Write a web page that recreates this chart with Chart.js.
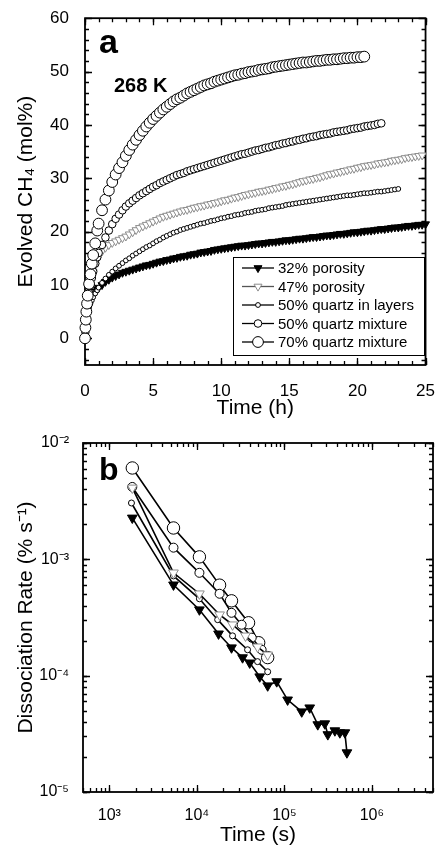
<!DOCTYPE html>
<html>
<head>
<meta charset="utf-8">
<script src="https://cdn.jsdelivr.net/npm/chart.js@4.4.1/dist/chart.umd.min.js"></script>
<style>
  html, body { margin: 0; padding: 0; background: #fff; }
  #chartA { position: absolute; left: 0; top: 0; }
  #chartB { position: absolute; left: 0; top: 425px; }
</style>
</head>
<body>
<canvas id="chartA" width="443" height="425"></canvas>
<canvas id="chartB" width="443" height="424"></canvas>
<script>
// ---- panel a: evolved CH4 vs time (h) ----
const hours = [
  0, 0.03, 0.06, 0.1, 0.15, 0.2, 0.3, 0.4, 0.5, 0.6, 0.75, 0.9,
  1, 1.25, 1.5, 1.75, 2, 2.25, 2.5, 2.75, 3, 3.25, 3.5, 3.75,
  4, 4.25, 4.5, 4.75, 5, 5.25, 5.5, 5.75, 6, 6.25, 6.5, 6.75,
  7, 7.25, 7.5, 7.75, 8, 8.25, 8.5, 8.75, 9, 9.25, 9.5, 9.75,
  10, 10.25, 10.5, 10.75, 11, 11.25, 11.5, 11.75, 12, 12.25, 12.5, 12.75,
  13, 13.25, 13.5, 13.75, 14, 14.25, 14.5, 14.75, 15, 15.25, 15.5, 15.75,
  16, 16.25, 16.5, 16.75, 17, 17.25, 17.5, 17.75, 18, 18.25, 18.5, 18.75,
  19, 19.25, 19.5, 19.75, 20, 20.25, 20.5, 20.75, 21, 21.25, 21.5, 21.75,
  22, 22.25, 22.5, 22.75, 23, 23.25, 23.5, 23.75, 24, 24.25, 24.5, 24.75, 25
];

const evolvedPor32 = [
  0, 1.2, 2.3, 3.5, 4.6, 5.5, 6.6, 7.3, 7.9, 8.3, 8.8, 9.2,
  9.5, 10.0, 10.6, 11.0, 11.4, 11.7, 12.0, 12.3, 12.5, 12.7, 12.9, 13.1,
  13.3, 13.5, 13.7, 13.8, 14.0, 14.2, 14.4, 14.5, 14.7, 14.8, 15.0, 15.1,
  15.3, 15.4, 15.5, 15.7, 15.8, 15.9, 16.1, 16.2, 16.3, 16.4, 16.6, 16.7,
  16.8, 16.9, 17.0, 17.1, 17.2, 17.3, 17.4, 17.4, 17.5, 17.6, 17.7, 17.8,
  17.8, 17.9, 18.0, 18.1, 18.1, 18.2, 18.3, 18.4, 18.4, 18.5, 18.6, 18.7,
  18.7, 18.8, 18.9, 19.0, 19.0, 19.1, 19.2, 19.3, 19.3, 19.4, 19.5, 19.6,
  19.6, 19.7, 19.8, 19.9, 19.9, 20.0, 20.1, 20.2, 20.2, 20.3, 20.4, 20.5,
  20.5, 20.6, 20.7, 20.8, 20.8, 20.9, 21.0, 21.1, 21.1, 21.2, 21.3, 21.3, 21.4
];

const evolvedPor47 = [
  0, 1.2, 2.4, 3.8, 5.3, 6.6, 8.5, 10, 11.3, 12.4, 13.7, 14.8,
  15.5, 16.3, 17.0, 17.5, 17.9, 18.2, 18.5, 18.8, 19.1, 19.5, 19.9, 20.3,
  20.7, 21.0, 21.3, 21.6, 21.9, 22.2, 22.5, 22.8, 23.0, 23.2, 23.4, 23.6,
  23.8, 24.0, 24.1, 24.3, 24.5, 24.6, 24.8, 24.9, 25.1, 25.2, 25.4, 25.5,
  25.7, 25.9, 26.0, 26.2, 26.4, 26.5, 26.7, 26.9, 27.0, 27.2, 27.3, 27.5,
  27.6, 27.7, 27.9, 28.0, 28.2, 28.3, 28.5, 28.6, 28.8, 28.9, 29.1, 29.3,
  29.5, 29.6, 29.8, 29.9, 30.1, 30.2, 30.4, 30.6, 30.8, 30.9, 31.1, 31.2,
  31.4, 31.5, 31.7, 31.8, 32.0, 32.1, 32.3, 32.4, 32.5, 32.6, 32.8, 32.9,
  33.0, 33.1, 33.3, 33.4, 33.5, 33.6, 33.8, 33.9, 34.0, 34.1, 34.2, 34.3
];

const evolvedLayers50 = [
  0, 1, 2, 3, 4, 4.8, 5.8, 6.5, 7.1, 7.7, 8.4, 9.0,
  9.5, 10.4, 11.2, 11.9, 12.5, 13.1, 13.6, 14.1, 14.6, 15.0, 15.5, 15.9,
  16.3, 16.7, 17.1, 17.4, 17.8, 18.2, 18.5, 18.9, 19.2, 19.5, 19.8, 20.0,
  20.3, 20.5, 20.7, 20.9, 21.1, 21.3, 21.5, 21.6, 21.8, 22.0, 22.1, 22.3,
  22.5, 22.6, 22.8, 22.9, 23.1, 23.2, 23.3, 23.5, 23.6, 23.7, 23.9, 24.0,
  24.1, 24.2, 24.4, 24.5, 24.6, 24.7, 24.8, 25.0, 25.1, 25.2, 25.3, 25.4,
  25.5, 25.6, 25.7, 25.8, 25.9, 26.0, 26.1, 26.2, 26.3, 26.4, 26.5, 26.6,
  26.7, 26.8, 26.8, 26.9, 27.0, 27.1, 27.2, 27.2, 27.3, 27.4, 27.5, 27.5,
  27.6, 27.7, 27.8, 27.9, 28.0
];

const evolvedMix50 = [
  0, 1.2, 2.4, 3.8, 5.3, 6.6, 8.5, 10, 11.3, 12.5, 14, 15.2,
  16.0, 17.5, 18.9, 20.2, 21.4, 22.4, 23.2, 24.0, 24.7, 25.3, 25.8, 26.3,
  26.8, 27.2, 27.6, 28.0, 28.4, 28.7, 29.1, 29.4, 29.7, 30.0, 30.3, 30.6,
  30.8, 31.0, 31.3, 31.5, 31.7, 31.9, 32.1, 32.3, 32.5, 32.7, 32.9, 33.1,
  33.3, 33.5, 33.7, 33.9, 34.1, 34.3, 34.5, 34.6, 34.8, 35.0, 35.2, 35.3,
  35.5, 35.7, 35.8, 36.0, 36.2, 36.3, 36.5, 36.6, 36.8, 36.9, 37.1, 37.2,
  37.4, 37.5, 37.7, 37.8, 37.9, 38.1, 38.2, 38.3, 38.4, 38.6, 38.7, 38.8,
  38.9, 39.0, 39.2, 39.3, 39.4, 39.5, 39.7, 39.8, 39.9, 40.0, 40.2, 40.3
];

const evolvedMix70 = [
  0, 2, 3.5, 5, 6.5, 8, 10.2, 12, 14, 15.6, 17.8, 20.2,
  21.5, 24.0, 26.0, 27.7, 29.3, 30.7, 31.9, 33.0, 34.2, 35.3, 36.3, 37.2,
  38.1, 38.9, 39.7, 40.4, 41.1, 41.7, 42.3, 42.9, 43.4, 43.9, 44.4, 44.8,
  45.1, 45.5, 45.9, 46.2, 46.5, 46.8, 47.1, 47.4, 47.6, 47.8, 48.1, 48.3,
  48.5, 48.7, 48.9, 49.1, 49.3, 49.4, 49.6, 49.7, 49.9, 50.0, 50.1, 50.3,
  50.4, 50.5, 50.6, 50.8, 50.9, 51.0, 51.1, 51.2, 51.3, 51.4, 51.5, 51.6,
  51.7, 51.7, 51.8, 51.9, 52.0, 52.0, 52.1, 52.2, 52.2, 52.3, 52.3, 52.4,
  52.5, 52.5, 52.6, 52.6, 52.7, 52.7, 52.8
];

const hourTicks = [0, 5, 10, 15, 20, 25];
const evolvedTicks = [0, 10, 20, 30, 40, 50, 60];

// ---- panel b: dissociation rate vs time (s) ----
const rateTimePor32 = [1830, 5410, 10700, 17700, 24900, 33300, 40200, 52300, 64500, 81800,
  109000, 158000, 195000, 241000, 290000, 314000, 378000, 431000, 492000, 519000];
const ratePor32 = [2.27e-3, 6.04e-4, 3.69e-4, 2.29e-4, 1.74e-4, 1.43e-4, 1.29e-4, 9.8e-5, 8.2e-5, 8.9e-5,
  6.2e-5, 4.9e-5, 5.3e-5, 3.8e-5, 3.87e-5, 3.12e-5, 3.37e-5, 3.24e-5, 3.24e-5, 2.18e-5];
const rateTimePor47 = [1830, 5410, 10700, 18200, 25600, 36000, 49400, 64500];
const ratePor47 = [4.11e-3, 7.66e-4, 5.06e-4, 3.34e-4, 2.74e-4, 2.2e-4, 1.77e-4, 1.51e-4];
const rateTimeLayers50 = [1790, 5410, 10700, 17300, 25600, 38000, 49400, 64500];
const rateLayers50 = [3.05e-3, 7.2e-4, 4.58e-4, 3.03e-4, 2.2e-4, 1.67e-4, 1.32e-4, 1.08e-4];
const rateTimeMix50 = [1830, 5410, 10700, 18200, 24900, 32500, 42400, 55000];
const rateMix50 = [4.19e-3, 1.26e-3, 7.66e-4, 5.06e-4, 3.47e-4, 2.74e-4, 2.12e-4, 1.67e-4];
const rateTimeMix70 = [1830, 5410, 10700, 18200, 24900, 39000, 50900, 64500];
const rateMix70 = [6.1e-3, 1.86e-3, 1.05e-3, 6.0e-4, 4.4e-4, 2.85e-4, 1.92e-4, 1.43e-4];

const secTicks = [1e3, 1e4, 1e5, 1e6];
const secTickLabels = ['10³', '10⁴', '10⁵', '10⁶'];
const rateTicks = [1e-5, 1e-4, 1e-3, 1e-2];
const rateTickLabels = ['10⁻⁵', '10⁻⁴', '10⁻³', '10⁻²'];

const seriesNames = ['32% porosity', '47% porosity', '50% quartz in layers', '50% quartz mixture', '70% quartz mixture'];

const FONT = '"Liberation Sans", Arial, Helvetica, sans-serif';

// marker look per series (shared by both panels, radius differs)
const markers = [
  { pointStyle: 'triangle', rotation: 180, bg: '#000', border: '#000', line: '#000', ra: 4.6, rb: 5.6 },
  { pointStyle: 'triangle', rotation: 180, bg: '#fff', border: '#8c8c8c', line: '#555', ra: 4.6, rb: 5.6 },
  { pointStyle: 'circle', rotation: 0, bg: '#fff', border: '#000', line: '#000', ra: 2.4, rb: 3 },
  { pointStyle: 'circle', rotation: 0, bg: '#fff', border: '#000', line: '#000', ra: 3.8, rb: 4.5 },
  { pointStyle: 'circle', rotation: 0, bg: '#fff', border: '#000', line: '#000', ra: 5.4, rb: 6.2 }
];

function pairs(xs, ys) {
  return ys.map((v, i) => ({ x: xs[i], y: v }));
}

function linearMinor(min, max, step) {
  const out = [];
  for (let v = min; v <= max + 1e-9; v += step) out.push(v);
  return out;
}

function logMinor(min, max) {
  const out = [];
  for (let k = Math.floor(Math.log10(min)); k <= Math.ceil(Math.log10(max)); k++) {
    for (let d = 1; d <= 9; d++) {
      const v = d * Math.pow(10, k);
      if (v >= min && v <= max) out.push(v);
    }
  }
  return out;
}

// box frame with inward ticks on all four sides
const frameTicks = {
  id: 'frameTicks',
  beforeDatasetsDraw(chart, args, o) {
    const { ctx, chartArea: a, scales: { x, y } } = chart;
    ctx.save();
    ctx.strokeStyle = '#000';
    ctx.lineWidth = 1.3;
    const mark = (scale, values, len) => {
      values.forEach(v => {
        const p = Math.round(scale.getPixelForValue(v)) + 0.5;
        ctx.beginPath();
        if (scale.isHorizontal()) {
          ctx.moveTo(p, a.bottom); ctx.lineTo(p, a.bottom - len);
          ctx.moveTo(p, a.top); ctx.lineTo(p, a.top + len);
        } else {
          ctx.moveTo(a.left, p); ctx.lineTo(a.left + len, p);
          ctx.moveTo(a.right, p); ctx.lineTo(a.right - len, p);
        }
        ctx.stroke();
      });
    };
    mark(x, o.xMajor, 7);
    mark(x, o.xMinor, 4);
    mark(y, o.yMajor, 7);
    mark(y, o.yMinor, 4);
    ctx.lineWidth = 1.8;
    ctx.strokeRect(a.left, a.top, a.right - a.left, a.bottom - a.top);
    ctx.restore();
  }
};

// boxed legend inside panel a
const boxLegend = {
  id: 'boxLegend',
  afterDatasetsDraw(chart, args, o) {
    if (!o.show) return;
    const ctx = chart.ctx;
    ctx.save();
    ctx.fillStyle = '#fff';
    ctx.fillRect(o.left, o.top, o.width, o.height);
    ctx.strokeStyle = '#000';
    ctx.lineWidth = 1;
    ctx.strokeRect(o.left + 0.5, o.top + 0.5, o.width, o.height);
    ctx.font = o.fontSize + 'px ' + FONT;
    ctx.textBaseline = 'middle';
    chart.data.datasets.forEach((ds, i) => {
      const yy = o.top + o.firstRow + i * o.rowGap;
      const m = markers[i];
      ctx.strokeStyle = m.line;
      ctx.lineWidth = 1.3;
      ctx.beginPath();
      ctx.moveTo(o.left + o.lineStart, yy);
      ctx.lineTo(o.left + o.lineEnd, yy);
      ctx.stroke();
      ctx.fillStyle = m.bg;
      ctx.strokeStyle = m.border;
      ctx.lineWidth = 1;
      Chart.helpers.drawPoint(ctx, { pointStyle: m.pointStyle, rotation: m.rotation, radius: m.ra, borderWidth: 1 },
        o.left + (o.lineStart + o.lineEnd) / 2, yy);
      ctx.fillStyle = '#000';
      ctx.fillText(ds.label, o.left + o.textX, yy + 1);
    });
    ctx.restore();
  }
};

// panel letters and temperature note
const panelText = {
  id: 'panelText',
  afterDraw(chart, args, o) {
    const ctx = chart.ctx;
    ctx.save();
    ctx.fillStyle = '#000';
    ctx.textBaseline = 'alphabetic';
    o.items.forEach(t => {
      ctx.font = 'bold ' + t.size + 'px ' + FONT;
      ctx.fillText(t.text, t.x, t.y);
    });
    ctx.restore();
  }
};

const evolvedSeries = [evolvedPor32, evolvedPor47, evolvedLayers50, evolvedMix50, evolvedMix70];

const chartA = new Chart(document.getElementById('chartA'), {
  type: 'scatter',
  data: {
    datasets: evolvedSeries.map((vals, i) => ({
      label: seriesNames[i],
      data: pairs(hours, vals),
      showLine: false,
      order: evolvedSeries.length - i, // circles drawn over triangles
      pointStyle: markers[i].pointStyle,
      rotation: markers[i].rotation,
      pointRadius: markers[i].ra,
      pointBackgroundColor: markers[i].bg,
      pointBorderColor: markers[i].border,
      pointBorderWidth: 1,
      clip: false
    }))
  },
  options: {
    responsive: false,
    animation: false,
    events: [],
    layout: { padding: { left: 0, right: 10, top: 17, bottom: 0 } },
    plugins: {
      legend: { display: false },
      tooltip: { enabled: false },
      frameTicks: {
        xMajor: hourTicks, xMinor: linearMinor(0, 25, 1),
        yMajor: evolvedTicks, yMinor: linearMinor(-4, 58, 2)
      },
      boxLegend: { show: true, left: 233, top: 257, width: 191, height: 98, firstRow: 11, rowGap: 18.5,
        lineStart: 9, lineEnd: 41, textX: 45, fontSize: 15 },
      panelText: { items: [
        { text: 'a', x: 99, y: 53, size: 34 },
        { text: '268 K', x: 114, y: 92, size: 20 }
      ] }
    },
    scales: {
      x: {
        type: 'linear', min: 0, max: 25,
        grid: { display: false }, border: { display: false },
        afterBuildTicks: s => { s.ticks = hourTicks.map(v => ({ value: v })); },
        afterFit: s => { s.height = 60; },
        ticks: { color: '#000', font: { family: FONT, size: 17 }, padding: 8, maxRotation: 0, autoSkip: false },
        title: { display: true, text: 'Time (h)', color: '#000', font: { family: FONT, size: 21 }, padding: { top: 0, bottom: 4 } }
      },
      y: {
        type: 'linear', min: -5, max: 60,
        grid: { display: false }, border: { display: false },
        afterBuildTicks: s => { s.ticks = evolvedTicks.map(v => ({ value: v })); },
        afterFit: s => { s.width = 85; },
        ticks: { color: '#000', font: { family: FONT, size: 17 }, padding: 8, autoSkip: false },
        title: { display: true, text: 'Evolved CH₄ (mol%)', color: '#000', font: { family: FONT, size: 21 }, padding: { top: 14, bottom: 0 } }
      }
    }
  },
  plugins: [frameTicks, boxLegend, panelText]
});

const rateX = [rateTimePor32, rateTimePor47, rateTimeLayers50, rateTimeMix50, rateTimeMix70];
const rateY = [ratePor32, ratePor47, rateLayers50, rateMix50, rateMix70];

const chartB = new Chart(document.getElementById('chartB'), {
  type: 'scatter',
  data: {
    datasets: rateY.map((vals, i) => ({
      label: seriesNames[i],
      data: pairs(rateX[i], vals),
      showLine: true,
      borderColor: '#000',
      borderWidth: 1.6,
      pointStyle: markers[i].pointStyle,
      rotation: markers[i].rotation,
      pointRadius: markers[i].rb,
      pointBackgroundColor: markers[i].bg,
      pointBorderColor: markers[i].border,
      pointBorderWidth: 1,
      clip: false
    }))
  },
  options: {
    responsive: false,
    animation: false,
    events: [],
    layout: { padding: { left: 0, right: 10, top: 18, bottom: 0 } },
    plugins: {
      legend: { display: false },
      tooltip: { enabled: false },
      frameTicks: {
        xMajor: secTicks, xMinor: logMinor(500, 5e6),
        yMajor: rateTicks, yMinor: logMinor(1e-5, 1e-2)
      },
      boxLegend: { show: false },
      panelText: { items: [ { text: 'b', x: 99, y: 55, size: 32 } ] }
    },
    scales: {
      x: {
        type: 'logarithmic', min: 500, max: 5e6,
        grid: { display: false }, border: { display: false },
        afterBuildTicks: s => { s.ticks = secTicks.map(v => ({ value: v })); },
        afterFit: s => { s.height = 57; },
        ticks: { color: '#000', font: { family: FONT, size: 16 }, padding: 6, maxRotation: 0, autoSkip: false,
          callback: v => secTickLabels[secTicks.indexOf(v)] },
        title: { display: true, text: 'Time (s)', color: '#000', font: { family: FONT, size: 21 }, padding: { top: 0, bottom: 1 } }
      },
      y: {
        type: 'logarithmic', min: 1e-5, max: 1e-2,
        grid: { display: false }, border: { display: false },
        afterBuildTicks: s => { s.ticks = rateTicks.map(v => ({ value: v })); },
        afterFit: s => { s.width = 83; },
        ticks: { color: '#000', font: { family: FONT, size: 16 }, padding: 6, autoSkip: false,
          callback: v => rateTickLabels[rateTicks.indexOf(v)] },
        title: { display: true, text: 'Dissociation Rate (% s⁻¹)', color: '#000', font: { family: FONT, size: 21 }, padding: { top: 14, bottom: 0 } }
      }
    }
  },
  plugins: [frameTicks, boxLegend, panelText]
});
</script>
</body>
</html>
